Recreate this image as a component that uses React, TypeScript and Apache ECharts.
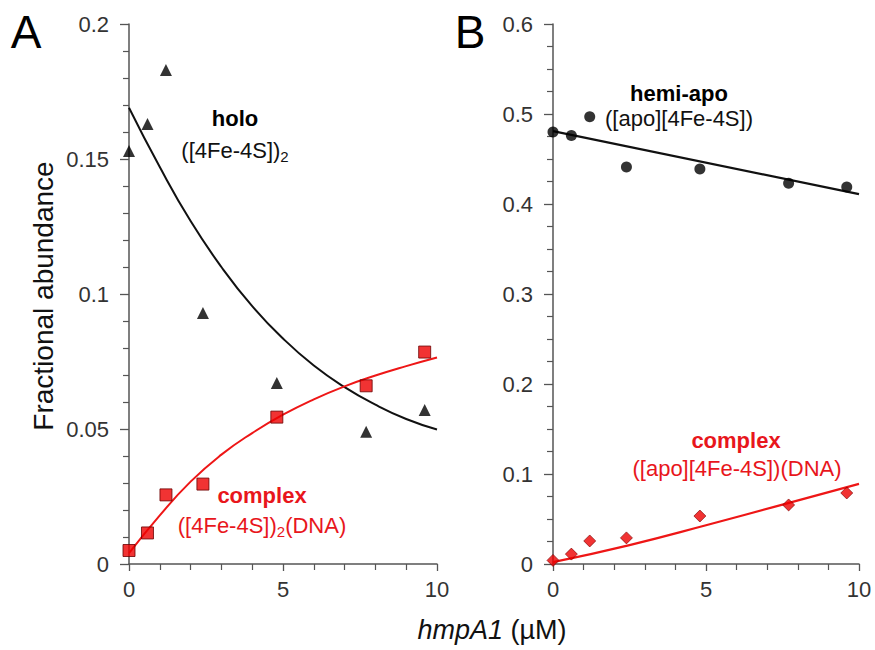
import React, { useEffect, useRef } from "react";
import * as echarts from "echarts";

// hmpA1 concentrations (µM)
const conc = [0, 0.6, 1.2, 2.4, 4.8, 7.7, 9.6];
// Panel A data
const holoA = [0.153, 0.163, 0.183, 0.093, 0.067, 0.049, 0.057];
const complexA = [0.005, 0.0115, 0.0256, 0.0296, 0.0544, 0.066, 0.0785];
// Panel B data
const hemiB = [0.48, 0.476, 0.497, 0.441, 0.439, 0.423, 0.419];
const complexB = [0.004, 0.011, 0.0256, 0.029, 0.0533, 0.0656, 0.0789];

// Fitted curves
const fitX = [0, 1, 2, 3, 4, 5, 6, 7, 8, 9, 10];
const holoFit = [0.169, 0.147, 0.127, 0.11, 0.0955, 0.0835, 0.0735, 0.0655, 0.059, 0.0537, 0.0498];
const complexFitA = [0.004, 0.018, 0.0305, 0.0405, 0.0485, 0.0553, 0.061, 0.0658, 0.0698, 0.0733, 0.0765];
const hemiFitX = [0, 10];
const hemiFit = [0.481, 0.411];
const complexFitBX = [0, 2.5, 5, 7.5, 10];
const complexFitB = [0.002, 0.021, 0.043, 0.066, 0.089];

const yTicksA = { min: 0, max: 0.2, interval: 0.05, minor: 5 };
const yTicksB = { min: 0, max: 0.6, interval: 0.1, minor: 4 };

const FONT = "'Liberation Sans', Arial, Helvetica, sans-serif";
const RED = "#ee1616";
const TXTRED = "#e8161c";
const AX = "#555";

const zip = (xs: number[], ys: number[]) => xs.map((x, i) => [x, ys[i]]);

function xAxis(gridIndex: number) {
  return {
    type: "value",
    gridIndex,
    min: 0,
    max: 10,
    interval: 5,
    axisLine: { show: true, onZero: false, lineStyle: { color: AX, width: 1.5 } },
    axisTick: { show: true, length: 7, lineStyle: { color: AX, width: 1.3 } },
    minorTick: { show: true, splitNumber: 5, length: 6, lineStyle: { color: AX, width: 1.2 } },
    splitLine: { show: false },
    minorSplitLine: { show: false },
    axisLabel: { fontSize: 22, color: "#333", margin: 14, fontFamily: FONT },
  };
}

function yAxis(gridIndex: number, t: { min: number; max: number; interval: number; minor: number }) {
  return {
    type: "value",
    gridIndex,
    min: t.min,
    max: t.max,
    interval: t.interval,
    axisLine: { show: true, onZero: false, lineStyle: { color: AX, width: 1.5 } },
    axisTick: { show: true, length: 9, lineStyle: { color: AX, width: 1.3 } },
    minorTick: { show: true, splitNumber: t.minor, length: 6, lineStyle: { color: AX, width: 1.2 } },
    splitLine: { show: false },
    minorSplitLine: { show: false },
    axisLabel: { fontSize: 22, color: "#333", margin: 20, fontFamily: FONT },
  };
}

function label(x: number, y: number, text: string, color: string, bold: boolean, size = 22) {
  return {
    type: "text",
    x,
    y,
    z: 100,
    style: {
      text,
      fill: color,
      fontSize: size,
      fontWeight: bold ? "bold" : "normal",
      fontFamily: FONT,
      align: "center",
      verticalAlign: "middle",
    },
  };
}

function subLabel(x: number, y: number, pre: string, sub: string, post: string, color: string) {
  const base = { fontSize: 22, fontFamily: FONT, fill: color, lineHeight: 22, verticalAlign: "top" };
  return {
    type: "text",
    x,
    y,
    z: 100,
    style: {
      text: `{n|${pre}}{s|${sub}}` + (post ? `{n|${post}}` : ""),
      fill: color,
      fontSize: 22,
      fontFamily: FONT,
      align: "center",
      verticalAlign: "middle",
      rich: {
        n: base,
        s: { fontSize: 15, fontFamily: FONT, fill: color, lineHeight: 15, verticalAlign: "top", padding: [10, 0, 0, 0] },
      },
    },
  };
}

export default function App() {
  const ref = useRef<HTMLDivElement>(null);
  useEffect(() => {
    document.body.style.margin = "0";
    if (!ref.current) return;
    const chart = echarts.init(ref.current, null, { renderer: "svg" });
    const fitLine = (xi: number, xs: number[], ys: number[], color: string, w: number, smooth: boolean) => ({
      type: "line",
      xAxisIndex: xi,
      yAxisIndex: xi,
      data: zip(xs, ys),
      smooth,
      showSymbol: false,
      lineStyle: { color, width: w },
      z: 2,
    });
    const option = {
      animation: false,
      backgroundColor: "#ffffff",
      grid: [
        { left: 129, top: 24, width: 308, height: 540 },
        { left: 553, top: 24, width: 306, height: 540 },
      ],
      xAxis: [xAxis(0), xAxis(1)],
      yAxis: [yAxis(0, yTicksA), yAxis(1, yTicksB)],
      series: [
        fitLine(0, fitX, holoFit, "#111", 2, true),
        fitLine(0, fitX, complexFitA, RED, 2, true),
        {
          type: "scatter",
          xAxisIndex: 0,
          yAxisIndex: 0,
          data: zip(conc, holoA),
          symbol: "triangle",
          symbolSize: 12,
          itemStyle: { color: "#000" },
          z: 5,
        },
        {
          type: "scatter",
          xAxisIndex: 0,
          yAxisIndex: 0,
          data: zip(conc, complexA),
          symbol: "rect",
          symbolSize: 12,
          itemStyle: { color: "#ee0000", borderColor: "#6a0000", borderWidth: 1 },
          z: 5,
        },
        fitLine(1, hemiFitX, hemiFit, "#111", 2.2, false),
        fitLine(1, complexFitBX, complexFitB, RED, 2.2, true),
        {
          type: "scatter",
          xAxisIndex: 1,
          yAxisIndex: 1,
          data: zip(conc, hemiB),
          symbol: "circle",
          symbolSize: 11,
          itemStyle: { color: "#000" },
          z: 5,
        },
        {
          type: "scatter",
          xAxisIndex: 1,
          yAxisIndex: 1,
          data: zip(conc, complexB),
          symbol: "diamond",
          symbolSize: 12,
          itemStyle: { color: "#ee0000", borderColor: "#7a0000", borderWidth: 0.8 },
          z: 5,
        },
      ],
      graphic: [
        label(26, 32, "A", "#000", false, 46),
        label(470, 32, "B", "#000", false, 46),
        {
          type: "text",
          x: 43,
          y: 296,
          rotation: Math.PI / 2,
          style: {
            text: "Fractional abundance",
            fill: "#111",
            fontSize: 28,
            fontFamily: FONT,
            align: "center",
            verticalAlign: "middle",
          },
        },
        {
          type: "text",
          x: 492,
          y: 630,
          style: {
            text: "{i|hmpA1}{n| (µM)}",
            fill: "#111",
            fontSize: 27,
            fontFamily: FONT,
            align: "center",
            verticalAlign: "middle",
            rich: {
              i: { fontSize: 27, fontFamily: FONT, fontStyle: "italic", fill: "#111" },
              n: { fontSize: 27, fontFamily: FONT, fill: "#111" },
            },
          },
        },
        label(235, 118, "holo", "#000", true),
        subLabel(235, 150, "([4Fe-4S])", "2", "", "#111"),
        label(262, 495, "complex", TXTRED, true),
        subLabel(262, 525, "([4Fe-4S])", "2", "(DNA)", TXTRED),
        label(679, 93, "hemi-apo", "#000", true),
        label(679, 118, "([apo][4Fe-4S])", "#111", false),
        label(736, 440, "complex", TXTRED, true),
        label(737, 468, "([apo][4Fe-4S])(DNA)", TXTRED, false),
      ],
    };
    chart.setOption(option as any);
    return () => chart.dispose();
  }, []);
  return <div ref={ref} style={{ width: 875, height: 650 }} />;
}
